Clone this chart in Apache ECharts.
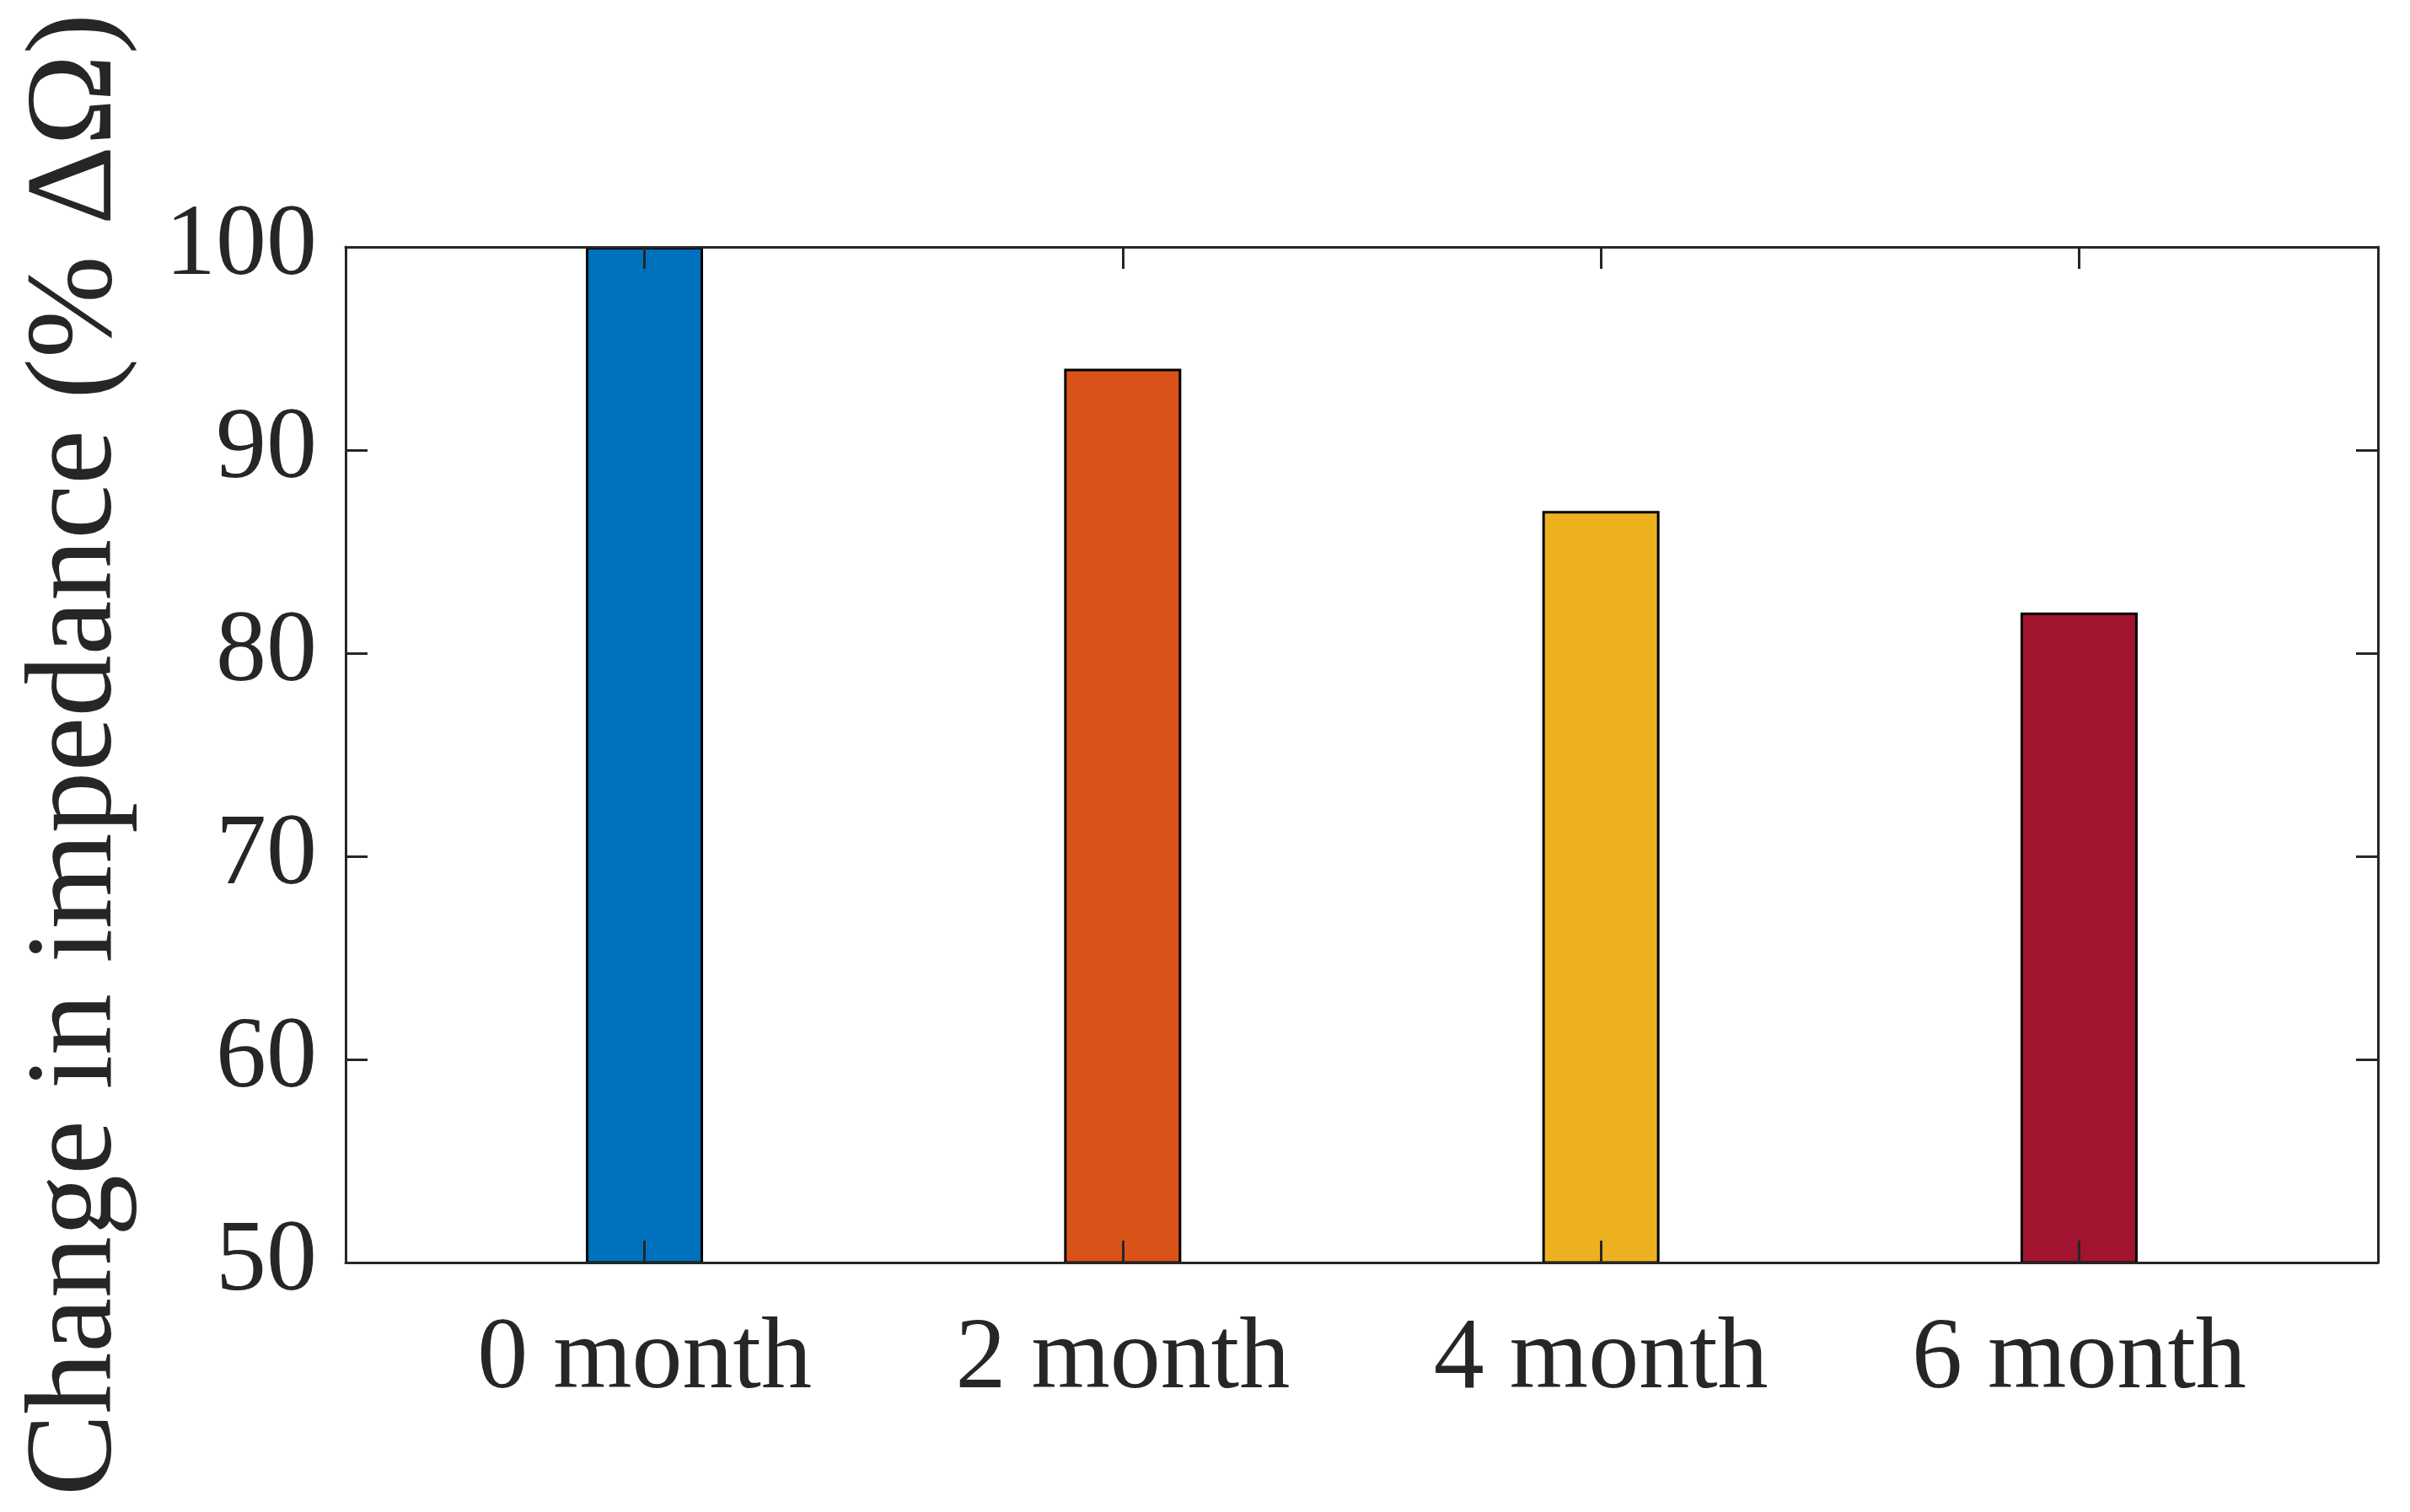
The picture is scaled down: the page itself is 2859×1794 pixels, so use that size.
<!DOCTYPE html>
<html>
<head>
<meta charset="utf-8">
<script src="https://cdn.jsdelivr.net/npm/echarts@6/dist/echarts.min.js"></script>
<style>
html,body{margin:0;padding:0;background:#fff;}
#chart{width:2859px;height:1794px;}
</style>
</head>
<body>
<div id="chart"></div>
<script>
const categories = ['0 month', '2 month', '4 month', '6 month'];
const values = [100, 94, 87, 82];
const barColors = ['#0072BD', '#D95319', '#EDB120', '#A2142F'];
const yTicks = [50, 60, 70, 80, 90, 100];
const yTitle = 'Change in impedance (% \u0394\u03A9)';

const positions = categories.map((c, i) => i + 1);
const FONT = '"Liberation Serif", "Times New Roman", serif';
const AX = '#262626';

const chart = echarts.init(document.getElementById('chart'), null, {renderer: 'canvas'});

const baseX = {
  type: 'value', min: 0.375, max: 4.625, z: 10,
  axisLine: {show: true, onZero: false, lineStyle: {color: AX, width: 3}},
  axisTick: {show: true, inside: true, length: 26, customValues: positions, lineStyle: {color: AX, width: 3}},
  splitLine: {show: false}
};
const baseY = {
  type: 'value', min: yTicks[0], max: yTicks[yTicks.length - 1], interval: 10, z: 10,
  axisLine: {show: true, onZero: false, lineStyle: {color: AX, width: 3}},
  axisTick: {show: true, inside: true, length: 26, lineStyle: {color: AX, width: 3}},
  splitLine: {show: false}
};

chart.setOption({
  backgroundColor: '#fff',
  animation: false,
  grid: {left: 410, right: 38, top: 293, bottom: 296, containLabel: false},
  xAxis: [
    Object.assign({}, baseX, {
      position: 'bottom',
      axisLabel: {show: true, customValues: positions, margin: 56, fontSize: 120, fontFamily: FONT, color: AX,
        formatter: v => categories[Math.round(v) - 1] || ''}
    }),
    Object.assign({}, baseX, {position: 'top', axisLabel: {show: false}})
  ],
  yAxis: [
    Object.assign({}, baseY, {
      position: 'left',
      name: yTitle, nameLocation: 'middle', nameGap: 244,
      nameTextStyle: {fontSize: 146, fontFamily: FONT, color: AX},
      axisLabel: {show: true, margin: 34, fontSize: 120, fontFamily: FONT, color: AX}
    }),
    Object.assign({}, baseY, {position: 'right', axisLabel: {show: false}})
  ],
  series: [{
    type: 'bar',
    xAxisIndex: 0, yAxisIndex: 0,
    barWidth: 139,
    data: positions.map((p, i) => ({
      value: [p, values[i]],
      itemStyle: {color: barColors[i], borderColor: '#000', borderWidth: 3}
    }))
  }]
});
</script>
</body>
</html>
